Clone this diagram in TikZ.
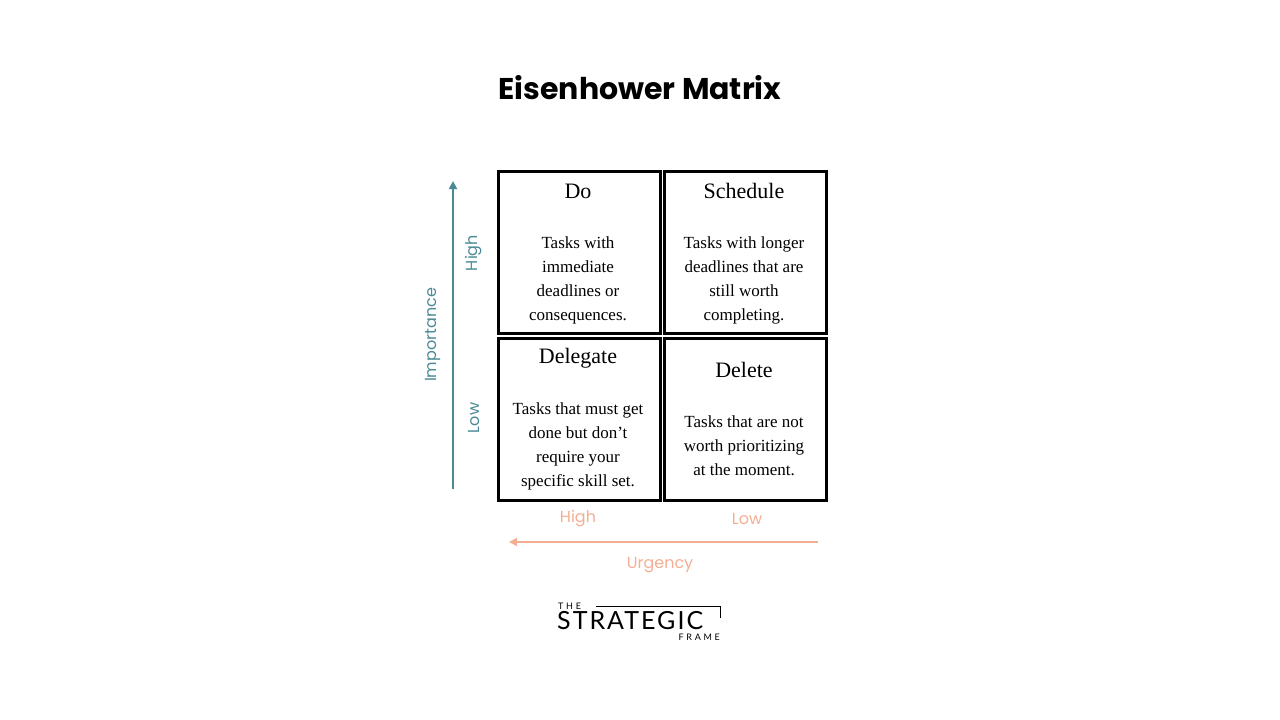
\documentclass[tikz,border=0pt]{standalone}
\usepackage{fontspec}
\setmainfont{Liberation Serif}
\newfontfamily\pop{Poppins}
\newfontfamily\logo{Lato}[LetterSpace=8]
\newfontfamily\logow{Lato}[LetterSpace=30]
\usetikzlibrary{arrows.meta}
\definecolor{teal}{HTML}{4A8A94}
\definecolor{salmon}{HTML}{F4AE94}
\begin{document}
\begin{tikzpicture}[x=1pt,y=-1pt,
 box/.style={draw=black,line width=2.5pt,minimum width=162pt,minimum height=162pt,anchor=north west,inner sep=0},
 head/.style={font=\fontsize{22}{26}\selectfont},
 body/.style={font=\fontsize{17}{24}\selectfont,align=center},
 tl/.style={text=teal,font=\pop\fontsize{16}{18}\selectfont},
 sl/.style={text=salmon,font=\pop\fontsize{16}{18}\selectfont},
 ar/.style={line width=1.8pt,-{Triangle[length=8pt,width=8pt]}}]
\useasboundingbox (0,0) rectangle (1280,720);
\node[font=\pop\bfseries\fontsize{30}{34}\selectfont] (title) at (640,88) {Eisenhower Matrix};
\node[box] (do) at (497,170) {};
\node[box] (sc) at (663,170) {};
\node[box] (de) at (497,337) {};
\node[box] (dl) at (663,337) {};
\node[head] (h1) at (578,191) {Do};
\node[head] (h2) at (744,191) {Schedule};
\node[head] (h3) at (578,358) {Delegate};
\node[head] (h4) at (744,370) {Delete};
\node[body] (b1) at (578,280) {Tasks with\\immediate\\deadlines or\\consequences.};
\node[body] (b2) at (744,280) {Tasks with longer\\deadlines that are\\still worth\\completing.};
\node[body] (b3) at (578,446) {Tasks that must get\\done but don't\\require your\\specific skill set.};
\node[body] (b4) at (744,446) {Tasks that are not\\worth prioritizing\\at the moment.};
\coordinate (v0) at (453,489);
\coordinate (v1) at (453,181);
\draw[teal,ar] (v0) -- (v1);
\node[tl,rotate=90] (imp) at (433,335) {Importance};
\node[tl,rotate=90] (hi) at (474,253) {High};
\node[tl,rotate=90] (lo) at (474,418) {Low};
\coordinate (h0) at (818,542);
\coordinate (h1c) at (509,542);
\draw[salmon,ar] (h0) -- (h1c);
\node[sl] (uh) at (578,519) {High};
\node[sl] (ul) at (747,519) {Low};
\node[sl] (urg) at (660,565) {Urgency};
\node[font=\logow\fontsize{9}{9}\selectfont,anchor=west,inner sep=0] (the) at (558,606) {THE};
\node[font=\logo\fontsize{25}{25}\selectfont,anchor=west,inner sep=0] (str) at (557,621) {STRATEGIC};
\node[font=\logow\fontsize{9}{9}\selectfont,anchor=east,inner sep=0] (fr) at (720,637) {FRAME};
\coordinate (l0) at (596,606);
\coordinate (l1) at (720,606);
\coordinate (l2) at (720,618);
\draw[line width=0.7pt] (l0) -- (l1) -- (l2);
\end{tikzpicture}
\end{document}
